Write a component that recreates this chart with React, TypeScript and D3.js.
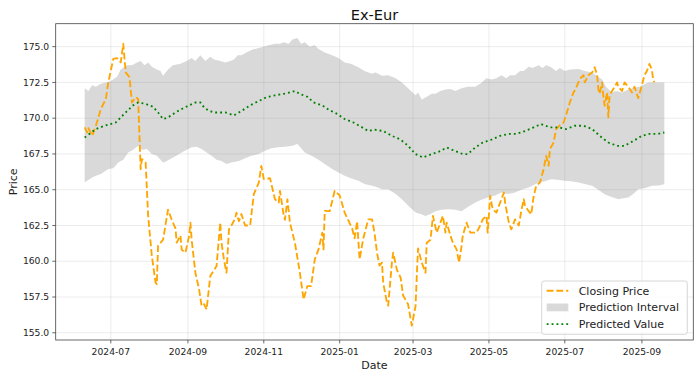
import React from "react";
import * as d3 from "d3";

// ---- data (days counted from START) ----
const START = "2024-06-10";
const TITLE = "Ex-Eur";

const closeDay = [0,2,3,6,9,13,17,19,23,26,29,31,33,36,38,41,43,45,46,49,51,54,57,58,59,63,67,70,73,74,77,78,81,84,85,86,89,92,94,96,98,101,106,109,110,112,114,116,118,121,122,124,126,129,133,136,140,142,144,149,153,156,157,160,161,163,165,169,173,176,179,182,185,188,191,192,193,197,201,205,209,215,217,219,221,224,228,231,233,235,237,239,240,243,244,247,248,251,254,256,260,263,266,267,268,271,274,275,278,280,283,286,288,290,291,294,296,299,301,303,304,307,310,312,315,318,320,323,324,326,328,331,334,337,338,341,343,346,349,351,353,354,357,359,361,363,366,369,370,371,373,374,377,379,382,385,387,390,393,395,398,401,402,405,408,410,412,413,414,416,417,418,420,421,422,424,428,429,432,434,437,440,442,445,448,450,452,454,456,457,458];
const closePrice = [169.36,169.0,169.3,168.77,169.47,170.64,171.34,172.5,174.14,174.2,173.9,175.2,173.2,172.86,171.1,171.46,171.34,166.44,167.14,166.9,163.2,160.36,158.5,158.4,161.07,161.5,163.6,162.9,162.3,161.3,161.8,160.8,160.6,161.8,162.7,161.5,159.2,158.03,156.86,157.0,156.63,158.97,159.66,162.7,161.3,160.1,159.2,162.23,162.5,163.0,163.4,162.8,163.3,162.5,162.5,164.7,165.5,166.67,165.74,165.8,164.33,164.1,164.92,163.2,162.9,164.33,162.7,161.3,159.2,157.33,158.26,158.26,160.13,160.83,162.0,160.83,163.52,163.5,164.92,164.6,163.4,162.3,161.6,162.8,160.13,161.6,162.93,162.93,162.0,160.6,159.7,159.9,158.5,157.1,156.9,159.9,160.6,159.4,158.85,157.6,157.0,155.5,156.86,158.97,160.9,159.9,159.2,161.3,161.5,163.17,162.0,162.7,163.17,162.0,162.7,161.8,161.3,160.83,159.9,161.07,161.8,162.7,162.0,162.0,162.0,162.5,162.93,163.17,162.0,164.57,163.63,163.4,164.1,164.8,164.1,162.7,162.23,162.93,162.5,163.5,164.33,163.87,163.5,163.28,164.57,165.27,165.5,166.44,166.9,167.37,166.67,167.84,168.3,169.24,169.5,169.7,170.2,171.1,171.8,172.1,172.74,173.0,172.5,173.0,173.2,173.56,173.0,172.0,171.7,172.5,171.5,170.87,171.8,170.06,171.6,171.9,172.5,172.2,171.9,172.5,172.2,171.8,172.2,171.4,172.3,173.0,173.3,173.79,173.4,172.7,172.5];

const predDay = [0,9,17,25,33,39,43,49,55,59,63,67,73,78,84,89,93,96,100,105,113,120,126,133,140,146,153,160,165,169,173,179,184,191,196,203,209,216,223,228,233,240,247,254,260,266,272,279,286,291,298,304,308,314,320,327,334,341,347,354,361,367,374,381,387,394,401,408,414,421,428,434,441,448,454,461,466];
const predValue = [168.65,169.24,169.5,169.7,170.41,170.9,171.1,171.0,170.8,170.4,169.94,170.05,170.4,170.64,170.9,171.1,171.1,170.75,170.5,170.4,170.4,170.2,170.5,170.9,171.2,171.46,171.6,171.7,171.8,171.9,171.7,171.5,171.1,170.9,170.6,170.3,169.94,169.7,169.36,169.1,169.2,169.1,168.77,168.5,168.07,167.49,167.25,167.49,167.7,167.95,167.7,167.49,167.49,167.95,168.3,168.5,168.77,168.9,168.9,169.1,169.36,169.59,169.36,169.36,169.24,169.47,169.47,169.24,168.77,168.3,168.07,168.07,168.4,168.77,168.9,168.9,169.0];

const upperDay = [0,3,6,9,13,17,21,26,29,34,38,42,45,48,51,54,58,61,63,67,71,77,82,86,89,93,97,101,104,109,113,117,120,123,126,130,135,140,144,148,153,157,160,164,167,171,174,177,181,185,188,193,199,204,209,214,220,225,231,234,239,244,250,255,260,266,268,271,275,279,282,286,290,294,298,303,308,314,318,323,327,331,335,339,342,346,350,353,357,360,365,368,371,375,379,382,386,390,397,402,408,411,416,419,424,427,432,437,442,446,453,458,466];
const upperValue = [172.1,171.9,172.3,172.2,172.4,172.5,172.6,172.9,173.4,173.7,173.7,173.9,174.0,173.7,173.9,173.6,173.4,173.3,172.97,173.4,173.7,173.8,174.0,174.2,174.0,174.4,174.0,174.3,174.1,174.0,173.9,174.0,174.1,174.4,174.4,174.6,174.8,174.9,175.0,175.1,175.2,175.2,175.3,175.2,175.5,175.6,175.2,175.3,175.0,175.1,174.84,174.6,174.4,174.2,173.9,173.8,173.56,173.3,173.1,173.2,172.97,173.0,172.8,172.5,172.1,171.6,171.8,171.3,171.5,171.7,171.7,171.9,172.0,172.04,171.9,172.1,172.2,172.2,172.4,172.8,172.7,172.8,173.0,172.8,173.0,173.0,173.3,173.3,173.6,173.5,173.7,173.5,173.7,173.56,173.3,173.5,173.3,173.4,173.44,173.3,173.2,173.0,172.7,172.2,171.8,171.9,171.8,172.0,172.15,172.2,172.5,172.5,172.5];

const lowerDay = [0,5,9,13,19,23,27,31,35,39,43,46,50,54,58,61,63,66,70,74,78,82,86,90,94,98,102,106,110,114,118,124,129,134,140,145,150,156,161,167,171,174,177,182,188,193,199,204,209,214,220,225,231,234,239,244,250,255,260,266,270,274,278,282,287,292,298,303,308,314,319,324,330,335,340,346,351,357,360,365,370,375,380,386,391,397,402,408,413,418,423,429,433,437,441,445,450,456,461,466];
const lowerValue = [165.5,165.8,165.97,166.1,166.44,166.5,166.9,167.1,167.6,167.8,168.07,167.8,167.84,167.5,167.37,167.1,166.9,167.0,167.2,167.4,167.6,167.8,167.96,168.0,167.84,167.6,167.37,167.1,167.0,166.8,166.9,167.0,167.2,167.37,167.5,167.72,167.9,167.96,168.0,168.07,168.2,167.9,167.6,167.4,167.1,166.8,166.44,166.2,165.97,165.8,165.62,165.4,165.27,165.2,165.04,165.04,164.7,164.33,163.9,163.4,163.3,163.17,163.3,163.5,163.6,163.63,163.6,163.5,163.8,164.1,164.3,164.45,164.6,164.8,164.7,164.8,165.0,165.15,165.3,165.5,165.6,165.74,165.7,165.62,165.6,165.5,165.4,165.27,165.0,164.69,164.5,164.33,164.4,164.45,164.7,165.04,165.1,165.27,165.3,165.38];

const xTickLabels = ["2024-07","2024-09","2024-11","2025-01","2025-03","2025-05","2025-07","2025-09"];
const yTicks = [155,157.5,160,162.5,165,167.5,170,172.5,175];
const legendLabels = ["Closing Price","Prediction Interval","Predicted Value"];

// ---- layout ----
const W = 700, H = 378;
const M = { left: 55.7, right: 693.3, top: 23.7, bottom: 340 };
const FONT = "DejaVu Sans, sans-serif";

export default function App() {
  const parse = d3.utcParse("%Y-%m-%d");
  const start = parse(START)!;
  const toDate = (d: number) => new Date(start.getTime() + d * 864e5);

  const allDays = [...closeDay, ...predDay, ...upperDay, ...lowerDay];
  const dMin = d3.min(allDays)!, dMax = d3.max(allDays)!;
  const padD = (dMax - dMin) * 0.05;
  const x = d3.scaleUtc().domain([toDate(dMin - padD), toDate(dMax + padD)]).range([M.left, M.right]);

  const allVals = [...closePrice, ...predValue, ...upperValue, ...lowerValue];
  const vMin = d3.min(allVals)!, vMax = d3.max(allVals)!;
  const padV = (vMax - vMin) * 0.05;
  const y = d3.scaleLinear().domain([vMin - padV, vMax + padV]).range([M.bottom, M.top]);

  const line = d3.line<[number, number]>().x(p => p[0]).y(p => p[1]);
  const closePts: [number, number][] = closeDay.map((d, i) => [x(toDate(d)), y(closePrice[i])]);
  const predPts: [number, number][] = predDay.map((d, i) => [x(toDate(d)), y(predValue[i])]);
  const upPts: [number, number][] = upperDay.map((d, i) => [x(toDate(d)), y(upperValue[i])]);
  const loPts: [number, number][] = lowerDay.map((d, i) => [x(toDate(d)), y(lowerValue[i])]);
  const bandPath = line([...upPts, ...loPts.slice().reverse()]) + "Z";

  const xTicks = xTickLabels.map(s => parse(s + "-01")!);

  const lgX = 541.7, lgY = 281, lgW = 145.6, lgH = 53.3;
  const rowY = [290.7, 307.4, 324.1];

  return (
    <svg width={W} height={H} style={{ position: "absolute", left: 0, top: 0, background: "#fff" }} fontFamily={FONT}>
      <rect x={0} y={0} width={W} height={H} fill="#fff" />
      {/* grid */}
      <g stroke="#b0b0b0" strokeOpacity={0.3} strokeWidth={0.8}>
        {xTicks.map((t, i) => <line key={"gx" + i} x1={x(t)} x2={x(t)} y1={M.top} y2={M.bottom} />)}
        {yTicks.map((t, i) => <line key={"gy" + i} x1={M.left} x2={M.right} y1={y(t)} y2={y(t)} />)}
      </g>
      {/* band */}
      <path d={bandPath} fill="gray" fillOpacity={0.3} stroke="none" />
      {/* closing price */}
      <path d={line(closePts)!} fill="none" stroke="orange" strokeWidth={1.85} strokeDasharray="6.8,2.9" strokeLinejoin="round" />
      {/* predicted */}
      <path d={line(predPts)!} fill="none" stroke="green" strokeWidth={1.85} strokeDasharray="1.85,3.05" />
      {/* spines */}
      <rect x={M.left} y={M.top} width={M.right - M.left} height={M.bottom - M.top} fill="none" stroke="#444" strokeWidth={0.8} />
      {/* x ticks */}
      {xTicks.map((t, i) => (
        <g key={"xt" + i}>
          <line x1={x(t)} x2={x(t)} y1={M.bottom} y2={M.bottom + 3.4} stroke="#444" strokeWidth={0.8} />
          <text x={x(t)} y={M.bottom + 14.5} textAnchor="middle" fontSize={9.2} fill="#222">{xTickLabels[i]}</text>
        </g>
      ))}
      {/* y ticks */}
      {yTicks.map((t, i) => (
        <g key={"yt" + i}>
          <line x1={M.left - 3.4} x2={M.left} y1={y(t)} y2={y(t)} stroke="#444" strokeWidth={0.8} />
          <text x={M.left - 6.5} y={y(t)} dy="0.35em" textAnchor="end" fontSize={9.2} fill="#222">{t.toFixed(1)}</text>
        </g>
      ))}
      {/* labels */}
      <text x={(M.left + M.right) / 2} y={369} textAnchor="middle" fontSize={11} fill="#222">Date</text>
      <text transform={`translate(16.5,${(M.top + M.bottom) / 2}) rotate(-90)`} textAnchor="middle" fontSize={11} fill="#222">Price</text>
      <text x={(M.left + M.right) / 2} y={19.5} textAnchor="middle" fontSize={14.6} fill="#111">{TITLE}</text>
      {/* legend */}
      <rect x={lgX} y={lgY} width={lgW} height={lgH} rx={2.5} fill="#fff" fillOpacity={0.8} stroke="#ccc" strokeWidth={0.8} />
      <line x1={546.7} x2={568.3} y1={rowY[0]} y2={rowY[0]} stroke="orange" strokeWidth={1.85} strokeDasharray="6.8,2.9" />
      <rect x={546.7} y={rowY[1] - 3.9} width={21.6} height={7.8} fill="gray" fillOpacity={0.3} />
      <line x1={546.7} x2={568.3} y1={rowY[2]} y2={rowY[2]} stroke="green" strokeWidth={1.85} strokeDasharray="1.85,3.05" />
      {legendLabels.map((s, i) => (
        <text key={s} x={578.7} y={rowY[i]} dy="0.36em" fontSize={11} fill="#222">{s}</text>
      ))}
    </svg>
  );
}
